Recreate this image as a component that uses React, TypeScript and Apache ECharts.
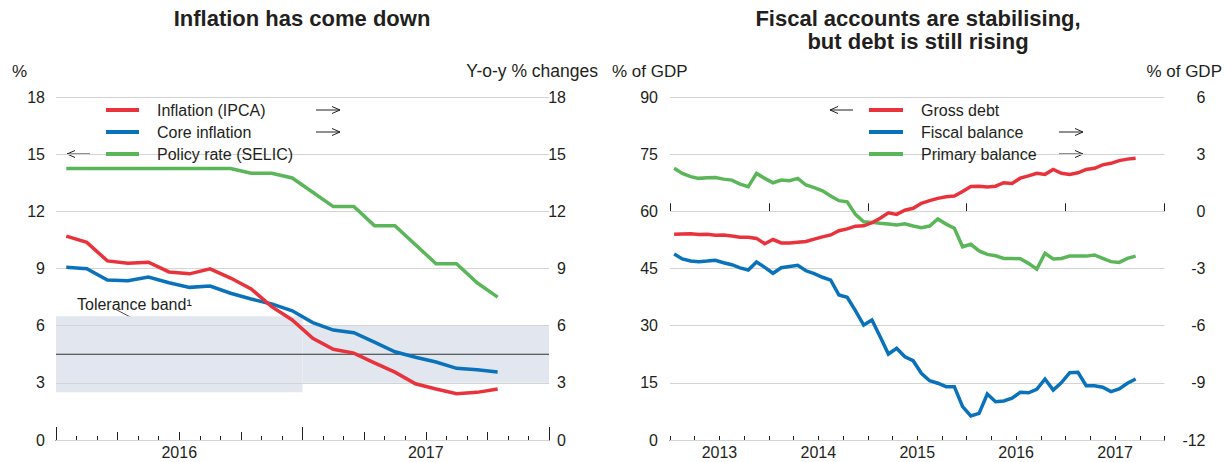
import React, { useEffect, useRef } from "react";
import * as echarts from "echarts";

const FONT = "'Liberation Sans', Arial, Helvetica, sans-serif";
const TEXT = "#231f20";
const RED = "#e8333c";
const BLUE = "#0a72bb";
const GREEN = "#5bb65a";
const GRID = "#d4d4d4";
const BAND = "#e1e6ef";

// ---------- Left panel: inflation (monthly, Jan 2016 - Oct 2017) ----------
const inflationMonths = [
  "2016-01", "2016-02", "2016-03", "2016-04", "2016-05", "2016-06",
  "2016-07", "2016-08", "2016-09", "2016-10", "2016-11", "2016-12",
  "2017-01", "2017-02", "2017-03", "2017-04", "2017-05", "2017-06",
  "2017-07", "2017-08", "2017-09", "2017-10",
];
const inflationIPCA = [
  10.7, 10.37, 9.4, 9.27, 9.33, 8.82, 8.72, 8.98, 8.5, 7.93, 7.0, 6.3,
  5.34, 4.76, 4.56, 4.05, 3.56, 2.95, 2.68, 2.43, 2.5, 2.68,
];
const coreInflation = [
  9.06, 8.99, 8.39, 8.36, 8.55, 8.25, 8.01, 8.08, 7.7, 7.4, 7.14, 6.78,
  6.16, 5.77, 5.63, 5.14, 4.63, 4.34, 4.09, 3.76, 3.69, 3.57,
];
const policyRateSELIC = [
  14.25, 14.25, 14.25, 14.25, 14.25, 14.25, 14.25, 14.25, 14.25, 14.0, 14.0, 13.75,
  13.0, 12.25, 12.25, 11.25, 11.25, 10.25, 9.25, 9.25, 8.25, 7.5,
];
const inflationYears = ["2016", "2017"];
const toleranceLow = [2.5, 3];
const toleranceHigh = [6.5, 6];
const inflationTarget = 4.5;

// ---------- Right panel: fiscal (monthly, Jan 2013 - Sep 2017) ----------
const grossDebt = [
  53.97, 54.05, 54.1, 53.9, 53.97, 53.7, 53.8, 53.5, 53.2, 53.2,
  52.9, 51.5, 52.6, 51.7, 51.7, 51.9, 52.1, 52.7, 53.3, 53.8,
  54.9, 55.4, 56.1, 56.2, 57.0, 58.2, 59.6, 59.2, 60.3, 60.8,
  62.1, 62.8, 63.4, 63.8, 64.0, 65.2, 66.5, 66.6, 66.4, 66.6,
  67.5, 67.3, 68.7, 69.3, 70.0, 69.7, 71.0, 70.0, 69.7, 70.1,
  71.0, 71.3, 72.2, 72.6, 73.3, 73.7, 73.9,
];
const fiscalBalance = [
  -2.24, -2.5, -2.61, -2.64, -2.61, -2.57, -2.7, -2.8, -2.97, -3.08,
  -2.66, -2.94, -3.25, -2.96, -2.89, -2.83, -3.12, -3.27, -3.46, -3.61,
  -4.39, -4.51, -5.21, -5.97, -5.7, -6.58, -7.49, -7.19, -7.63, -7.84,
  -8.5, -8.89, -9.02, -9.2, -9.2, -10.25, -10.74, -10.6, -9.59, -9.99,
  -9.95, -9.81, -9.5, -9.52, -9.34, -8.8, -9.38, -8.99, -8.47, -8.45,
  -9.15, -9.15, -9.23, -9.46, -9.32, -9.02, -8.8,
];
const primaryBalance = [
  2.26, 1.99, 1.82, 1.73, 1.76, 1.78, 1.69, 1.64, 1.43, 1.29,
  1.99, 1.73, 1.5, 1.64, 1.61, 1.73, 1.38, 1.24, 1.08, 0.8,
  0.56, 0.5, -0.16, -0.55, -0.58, -0.63, -0.67, -0.72, -0.65, -0.77,
  -0.86, -0.77, -0.4, -0.67, -0.89, -1.86, -1.73, -2.08, -2.26, -2.33,
  -2.47, -2.47, -2.49, -2.73, -3.04, -2.2, -2.5, -2.47, -2.35, -2.35,
  -2.35, -2.29, -2.47, -2.64, -2.68, -2.47, -2.35,
];
const fiscalYears = ["2013", "2014", "2015", "2016", "2017"];

const monthIndex = (label: string, startYear: number) => {
  const [y, m] = label.split("-").map(Number);
  return (y - startYear) * 12 + (m - 1) + 0.5;
};
const fiscalPoint = (i: number) => i + 0.5; // month i after Jan 2013, mid-month

const labelStyle = { color: TEXT, fontSize: 16, fontFamily: FONT };

function arrow(x1: number, x2: number, y: number) {
  const d = Math.sign(x2 - x1);
  return {
    type: "group",
    children: [
      { type: "line", shape: { x1, y1: y, x2, y2: y }, style: { stroke: TEXT, lineWidth: 1 } },
      {
        type: "polyline",
        shape: { points: [[x2 - d * 8, y - 3.5], [x2, y], [x2 - d * 8, y + 3.5]] },
        style: { stroke: TEXT, lineWidth: 1, fill: "none" },
      },
    ],
  };
}

function txt(x: number, y: number, text: string, align: string, size = 16) {
  return {
    type: "text",
    x,
    y,
    style: { text, fill: TEXT, fontSize: size, fontFamily: FONT, align, verticalAlign: "middle" },
  };
}

function tickAxis(grid: number, max: number, interval: number, length: number, extra: any = {}) {
  return {
    type: "value",
    gridIndex: grid,
    position: "bottom",
    min: 0,
    max,
    interval,
    axisLine: { show: false },
    axisTick: { show: true, inside: true, length, lineStyle: { color: TEXT, width: 1 } },
    axisLabel: { show: false },
    splitLine: { show: false },
    ...extra,
  };
}

export default function App() {
  const ref = useRef<HTMLDivElement>(null);

  useEffect(() => {
    if (!ref.current) return;
    const chart = echarts.init(ref.current, undefined, { renderer: "svg" });

    const lineSeries = (name: string, color: string, xi: number, yi: number, data: number[][]) => ({
      name,
      type: "line",
      xAxisIndex: xi,
      yAxisIndex: yi,
      data,
      symbol: "none",
      showSymbol: false,
      lineStyle: { color, width: 3.5, cap: "butt", join: "miter" },
      itemStyle: { color },
      z: 3,
    });

    const titleStyle = { fontSize: 22, fontWeight: "bold", color: TEXT, fontFamily: FONT, lineHeight: 22 };

    const option: any = {
      animation: false,
      textStyle: { fontFamily: FONT },
      title: [
        { text: "Inflation has come down", left: 302, top: 7, padding: 0, textAlign: "center", textStyle: titleStyle },
        { text: "Fiscal accounts are stabilising,", left: 918, top: 7, padding: 0, textAlign: "center", textStyle: titleStyle },
        { text: "but debt is still rising", left: 918, top: 30, padding: 0, textAlign: "center", textStyle: titleStyle },
      ],
      legend: [
        {
          data: ["Inflation (IPCA)", "Core inflation", "Policy rate (SELIC)"],
          left: 106, top: 99, orient: "vertical", icon: "rect",
          itemWidth: 33, itemHeight: 4, itemGap: 0, padding: 0, selectedMode: false,
          textStyle: { ...labelStyle, lineHeight: 22, padding: [0, 0, 0, 13] },
        },
        {
          data: ["Gross debt", "Fiscal balance", "Primary balance"],
          left: 869, top: 99, orient: "vertical", icon: "rect",
          itemWidth: 34, itemHeight: 4, itemGap: 0, padding: 0, selectedMode: false,
          textStyle: { ...labelStyle, lineHeight: 22, padding: [0, 0, 0, 13] },
        },
      ],
      grid: [
        { left: 56, top: 97, width: 493, height: 343 },
        { left: 670, top: 97, width: 494.5, height: 343 },
      ],
      xAxis: [
        tickAxis(0, 24, 1, 4, {
          axisLine: { show: true, lineStyle: { color: TEXT, width: 1 } },
          axisLabel: {
            show: true, ...labelStyle, margin: 4,
            formatter: (v: number) => ((v - 6) % 12 === 0 ? inflationYears[(v - 6) / 12] ?? "" : ""),
          },
        }),
        tickAxis(0, 24, 3, 8),
        tickAxis(0, 24, 12, 13),
        tickAxis(1, 60, 3, 4, {
          axisLine: { show: true, lineStyle: { color: TEXT, width: 1 } },
          axisLabel: {
            show: true, ...labelStyle, margin: 4,
            formatter: (v: number) => ((v - 6) % 12 === 0 ? fiscalYears[(v - 6) / 12] ?? "" : ""),
          },
        }),
        tickAxis(1, 60, 12, 8),
      ],
      yAxis: [
        {
          type: "value", gridIndex: 0, position: "left", min: 0, max: 18, interval: 3, z: 2,
          axisLine: { show: false }, axisTick: { show: false },
          axisLabel: { ...labelStyle, margin: 11 },
          splitLine: { show: true, lineStyle: { color: GRID, width: 1 } },
        },
        {
          type: "value", gridIndex: 0, position: "right", min: 0, max: 18, interval: 3, z: 2,
          axisLine: { show: false }, axisTick: { show: false },
          axisLabel: { ...labelStyle, margin: 17, align: "right" },
          splitLine: { show: false },
        },
        {
          type: "value", gridIndex: 1, position: "left", min: 0, max: 90, interval: 15, z: 2,
          axisLine: { show: false }, axisTick: { show: false },
          axisLabel: { ...labelStyle, margin: 12 },
          splitLine: { show: true, lineStyle: { color: GRID, width: 1 } },
        },
        {
          type: "value", gridIndex: 1, position: "right", min: -12, max: 6, interval: 3, z: 2,
          axisLine: { show: false }, axisTick: { show: false },
          axisLabel: { ...labelStyle, margin: 41, align: "right" },
          splitLine: { show: false },
        },
      ],
      series: [
        {
          name: "Tolerance band", type: "line", xAxisIndex: 0, yAxisIndex: 1,
          data: [], symbol: "none", silent: true, z: 0,
          markArea: {
            silent: true,
            itemStyle: { color: BAND },
            data: toleranceLow.map((lo, i) => [
              { coord: [i * 12, lo] },
              { coord: [(i + 1) * 12, toleranceHigh[i]] },
            ]),
          },
        },
        {
          name: "Target", type: "line", xAxisIndex: 0, yAxisIndex: 1,
          data: [[0, inflationTarget], [24, inflationTarget]],
          symbol: "none", silent: true,
          lineStyle: { color: "#333333", width: 1.2 }, z: 2.5,
        },
        lineSeries("Policy rate (SELIC)", GREEN, 0, 0,
          policyRateSELIC.map((v, i) => [monthIndex(inflationMonths[i], 2016), v])),
        lineSeries("Core inflation", BLUE, 0, 1,
          coreInflation.map((v, i) => [monthIndex(inflationMonths[i], 2016), v])),
        lineSeries("Inflation (IPCA)", RED, 0, 1,
          inflationIPCA.map((v, i) => [monthIndex(inflationMonths[i], 2016), v])),
        lineSeries("Primary balance", GREEN, 3, 3, primaryBalance.map((v, i) => [fiscalPoint(i), v])),
        lineSeries("Fiscal balance", BLUE, 3, 3, fiscalBalance.map((v, i) => [fiscalPoint(i), v])),
        lineSeries("Gross debt", RED, 3, 2, grossDebt.map((v, i) => [fiscalPoint(i), v])),
      ],
      graphic: [
        txt(12, 71, "%", "left", 17),
        txt(598, 71, "Y-o-y % changes", "right", 17.5),
        txt(612, 71, "% of GDP", "left", 17),
        txt(1222, 71, "% of GDP", "right", 17),
        txt(77, 304, "Tolerance band\u00b9", "left"),
        { type: "line", shape: { x1: 116, y1: 309.5, x2: 139, y2: 321.6 }, style: { stroke: TEXT, lineWidth: 0.8 } },
        { type: "polygon", shape: { points: [[139.3, 321.7], [133.1, 320.7], [134.9, 317.1]] }, style: { fill: TEXT } },
        arrow(90, 67, 154),
        arrow(316, 340, 110),
        arrow(316, 340, 132),
        arrow(853, 830, 110),
        arrow(1059, 1083, 132),
        arrow(1059, 1083, 154),
      ],
    };

    chart.setOption(option);
    return () => chart.dispose();
  }, []);

  return (
    <div
      ref={ref}
      style={{ position: "fixed", left: 0, top: 0, width: 1225, height: 462, background: "#ffffff" }}
    />
  );
}
